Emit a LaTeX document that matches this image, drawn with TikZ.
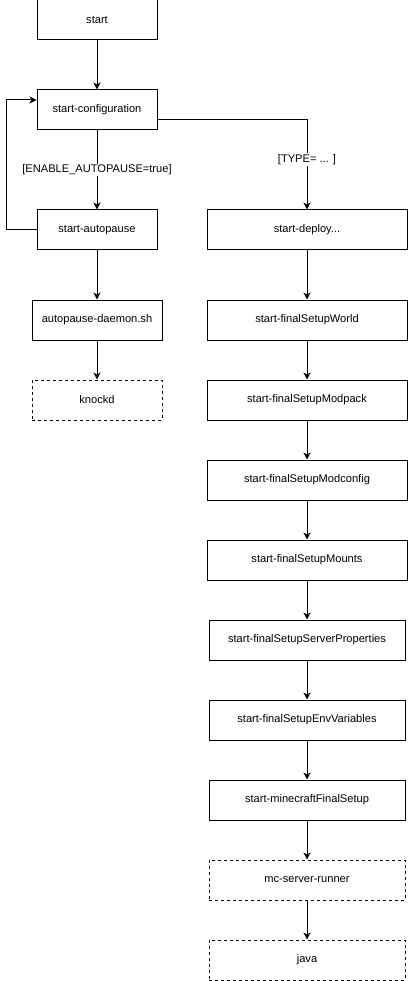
\documentclass[tikz,border=0pt]{standalone}
\usepackage{fontspec}
\setmainfont{Liberation Sans}
\usetikzlibrary{arrows.meta}
\begin{document}
\begin{tikzpicture}[x=1pt,y=-1pt,
  box/.style={draw=black,line width=1pt,fill=white,minimum width=120pt,minimum height=40pt,inner sep=0pt,font=\fontsize{11.1}{13}\selectfont},
  wbox/.style={box,minimum width=200pt},
  nbox/.style={box,minimum width=196pt},
  dbox/.style={box,dash pattern=on 3pt off 3pt},
  conn/.style={line width=1pt,-{Stealth[length=7pt,width=7pt,inset=2pt]}},
  lbl/.style={fill=white,inner sep=1pt,font=\fontsize{11.1}{13}\selectfont}]
\useasboundingbox (0,0) rectangle (408,981);
% left column
\node[box] (start) at (97,20) {start};
\node[box] (cfg) at (97,110) {start-configuration};
\node[box] (auto) at (97,230) {start-autopause};
\node[box,minimum width=130pt] (daemon) at (97,320) {autopause-daemon.sh};
\node[dbox,minimum width=130pt] (knockd) at (97,400) {knockd};
% right column
\node[wbox] (deploy) at (307,230) {start-deploy...};
\node[wbox] (world) at (307,320) {start-finalSetupWorld};
\node[wbox] (modpack) at (307,400) {start-finalSetupModpack};
\node[wbox] (modcfg) at (307,480) {start-finalSetupModconfig};
\node[wbox] (mounts) at (307,560) {start-finalSetupMounts};
\node[nbox] (props) at (307,640) {start-finalSetupServerProperties};
\node[nbox] (env) at (307,720) {start-finalSetupEnvVariables};
\node[nbox] (mcfinal) at (307,800) {start-minecraftFinalSetup};
\node[nbox,dash pattern=on 3pt off 3pt] (runner) at (307,880) {mc-server-runner};
\node[nbox,dash pattern=on 3pt off 3pt] (java) at (307,960) {java};
% connectors left
\draw[conn] (start) -- (cfg);
\draw[conn] (cfg) -- node[lbl,pos=0.5] {[ENABLE\_AUTOPAUSE=true]} (auto);
\draw[conn] (auto) -- (daemon);
\draw[conn] (daemon) -- (knockd);
\draw[conn] (auto.west) -- ++(-30,0) |- ([yshift=10pt]cfg.west);
% connectors right
\draw[conn] ([yshift=-10pt]cfg.east) -| node[lbl,pos=0.72] {[TYPE= ... ]} (deploy.north);
\draw[conn] (deploy) -- (world);
\draw[conn] (world) -- (modpack);
\draw[conn] (modpack) -- (modcfg);
\draw[conn] (modcfg) -- (mounts);
\draw[conn] (mounts) -- (props);
\draw[conn] (props) -- (env);
\draw[conn] (env) -- (mcfinal);
\draw[conn] (mcfinal) -- (runner);
\draw[conn] (runner) -- (java);
\end{tikzpicture}
\end{document}
